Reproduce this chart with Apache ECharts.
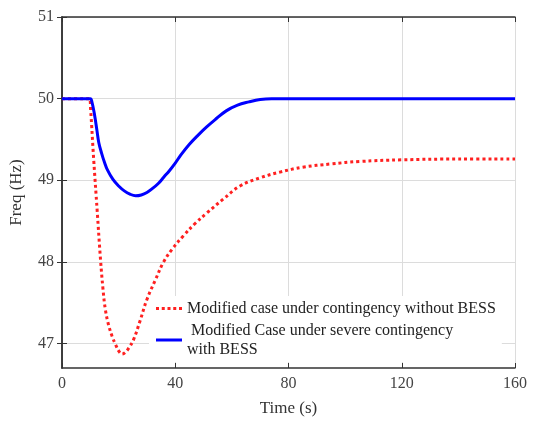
<!DOCTYPE html>
<html><head><meta charset="utf-8">
<script src="https://cdn.jsdelivr.net/npm/echarts@6/dist/echarts.min.js"></script>
<style>html,body{margin:0;padding:0;background:#fff}#c{width:541px;height:422px}</style>
</head><body><div id="c"></div>
<script>
const xTicks = [0, 40, 80, 120, 160];
const yTicks = [47, 48, 49, 50, 51];
const redName = 'Modified case under contingency without BESS';
const blueName = ' Modified Case under severe contingency\nwith BESS';
const redT = [0,9.7,10.1,11.2,12.4,13.6,14.5,15.3,16.5,17.7,19,20.2,21.2,22.3,23.5,25.3,27.5,30,33,35.9,39,42.9,47,51.2,57,62.9,70,77,85,95,105,120,140,160];
const redF = [50,50,49.87,49.25,48.64,48.03,47.66,47.42,47.22,47.09,46.98,46.9,46.87,46.89,46.94,47.05,47.27,47.54,47.78,48.0,48.16,48.32,48.47,48.6,48.77,48.93,49.03,49.1,49.16,49.2,49.23,49.25,49.26,49.26];
const blueT = [0,10,10.5,11.5,12.3,13,14,15,16,18,20,22,24,26,28,30,32,34,36,38,40,42,45,48,51,54,58,62,66,70,74,160];
const blueF = [50,50,49.97,49.8,49.62,49.46,49.33,49.22,49.13,49.01,48.93,48.87,48.83,48.81,48.82,48.85,48.9,48.96,49.04,49.12,49.21,49.31,49.44,49.55,49.65,49.74,49.85,49.92,49.96,49.99,50,50];

const font = 'Liberation Serif, Times New Roman, serif';
const chart = echarts.init(document.getElementById('c'));
const axLine = {show: true, lineStyle: {color: '#333', width: 1.5}};
const tick = {inside: true, length: 5, lineStyle: {color: '#333'}};
chart.setOption({
  animation: false,
  grid: {left: 61, right: 26, top: 17, bottom: 52},
  xAxis: [{
    type: 'value', min: 0, max: 160, interval: 40, position: 'bottom',
    name: 'Time (s)', nameLocation: 'middle', nameGap: 32,
    nameTextStyle: {fontFamily: font, fontSize: 17, color: '#333'},
    axisLine: axLine, axisTick: tick,
    axisLabel: {fontFamily: font, fontSize: 16, color: '#444', margin: 8, customValues: xTicks},
    splitLine: {show: true, lineStyle: {color: '#dcdcdc', width: 1}}
  }, {
    type: 'value', min: 0, max: 160, interval: 40, position: 'top',
    axisLine: axLine, axisTick: tick,
    axisLabel: {show: false}, splitLine: {show: false}
  }],
  yAxis: [{
    type: 'value', min: 46.7, max: 51, position: 'left',
    name: 'Freq (Hz)', nameLocation: 'middle', nameGap: 37,
    nameTextStyle: {fontFamily: font, fontSize: 17, color: '#333'},
    axisLine: axLine,
    axisTick: Object.assign({customValues: yTicks}, tick),
    axisLabel: {fontFamily: font, fontSize: 16, color: '#444', margin: 8, customValues: yTicks},
    splitLine: {show: true, lineStyle: {color: '#dcdcdc', width: 1}}
  }, {
    type: 'value', min: 46.7, max: 51, position: 'right',
    axisLine: axLine,
    axisTick: Object.assign({customValues: yTicks}, tick),
    axisLabel: {show: false}, splitLine: {show: false}
  }],
  legend: {
    orient: 'vertical', left: 149, top: 296, backgroundColor: '#fff',
    padding: [3, 6, 3, 7], itemGap: 3, itemWidth: 26, itemHeight: 3,
    textStyle: {fontFamily: font, fontSize: 16, color: '#222', lineHeight: 19},
    data: [
      {name: redName, icon: 'path://M0,0h3v3h-3z M5.75,0h3v3h-3z M11.5,0h3v3h-3z M17.25,0h3v3h-3z M23,0h3v3h-3z'},
      {name: blueName, icon: 'path://M0,0h26v3h-26z'}
    ]
  },
  series: [{
    name: redName, type: 'line', symbol: 'none', smooth: 0.4,
    data: redT.map((t, i) => [t, redF[i]]),
    lineStyle: {color: '#ff2020', width: 3, type: [3, 3]},
    itemStyle: {color: '#ff2020'}, z: 3
  }, {
    name: blueName, type: 'line', symbol: 'none', smooth: 0.4,
    data: blueT.map((t, i) => [t, blueF[i]]),
    lineStyle: {color: '#0000ff', width: 3},
    itemStyle: {color: '#0000ff'}, z: 4
  }]
});
</script></body></html>
